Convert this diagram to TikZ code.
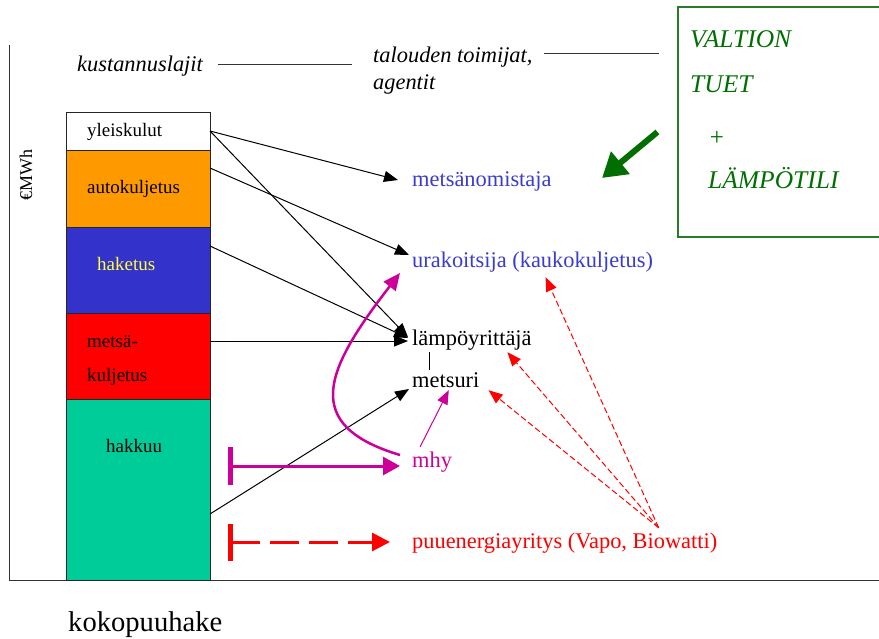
\documentclass[tikz,border=0pt]{standalone}
\usepackage{fontspec}
\setmainfont{Liberation Serif}
\usetikzlibrary{arrows.meta}
\definecolor{barorange}{HTML}{FF9900}
\definecolor{barblue}{HTML}{3333CC}
\definecolor{barred}{HTML}{FF0000}
\definecolor{bargreen}{HTML}{00CC99}
\definecolor{agentblue}{HTML}{3B3BD0}
\definecolor{mhycol}{HTML}{CC0099}
\definecolor{subsidy}{HTML}{006E00}
\definecolor{subsidybox}{HTML}{2A7A2A}
\definecolor{textyellow}{HTML}{FFFF33}
\begin{document}
\begin{tikzpicture}[x=1pt,y=-1pt,
  bar/.style={draw=black!85, line width=1pt, minimum width=144pt, inner sep=0pt, outer sep=0pt},
  barlabel/.style={anchor=base west, inner sep=0pt, font=\fontsize{19}{22}\selectfont},
  agent/.style={anchor=base west, inner sep=2pt, text height=15pt, text depth=5pt, font=\fontsize{22.4}{26}\selectfont},
  head/.style={anchor=base west, inner sep=0pt, font=\fontsize{22.4}{26}\selectfont\itshape},
  rule/.style={line width=1pt, black!80},
  cost/.style={line width=1pt, -{Triangle[length=14pt,width=11pt]}},
  tie/.style={red, line width=1pt, dash pattern=on 6pt off 3pt, -{Triangle[length=14pt,width=11pt]}},
  subsidytext/.style={anchor=base west, inner sep=0pt, text=subsidy, font=\fontsize{25.5}{30}\selectfont\itshape},
]
\useasboundingbox (0,0) rectangle (879,638);

% axes
\draw[rule] (9,45) -- (9,580) -- (879,580);
\node[rotate=90, font=\fontsize{18}{20}\selectfont] (unit) at (26,175) {€MWh};

% stacked cost bar
\node[bar, fill=white,     minimum height=38pt]  (yl) at (138,131)   {};
\node[bar, fill=barorange, minimum height=77pt]  (au) at (138,188.5) {};
\node[bar, fill=barblue,   minimum height=86pt]  (ha) at (138,270)   {};
\node[bar, fill=barred,    minimum height=86pt]  (mk) at (138,356)   {};
\node[bar, fill=bargreen,  minimum height=181pt] (hk) at (138,489.5) {};

\node[barlabel] (tyl) at (87,136) {yleiskulut};
\node[barlabel] (tau) at (87,193) {autokuljetus};
\node[barlabel, text=textyellow] (tha) at (97,270) {haketus};
\node[barlabel] (tmk1) at (87,347) {metsä-};
\node[barlabel] (tmk2) at (87,381) {kuljetus};
\node[barlabel] (thk) at (106,452) {hakkuu};

\node[anchor=base west, inner sep=0pt, font=\fontsize{28.6}{32}\selectfont] (kp) at (68,631) {kokopuuhake};

% headings
\node[head] (kl) at (77,71) {kustannuslajit};
\node[head] (tt1) at (373,62) {talouden toimijat,};
\node[head] (tt2) at (373,89) {agentit};

% subsidy box
\node[draw=subsidybox, line width=1.2pt, minimum width=212pt, minimum height=230pt, inner sep=0pt] (vb) at (784,122) {};
\node[subsidytext] (v1) at (690,47) {VALTION};
\node[subsidytext] (v2) at (690,92) {TUET};
\node[text=subsidy, font=\fontsize{25}{30}\selectfont] (v3) at (717,138) {+};
\node[subsidytext] (v4) at (708,188) {LÄMPÖTILI};

\draw[rule] ([xshift=15pt,yshift=1pt]kl.east) -- ([xshift=-21pt,yshift=-8pt]tt1.west);
\coordinate (l2s) at ([xshift=11pt,yshift=3pt]tt1.east);
\coordinate (l2e) at ([xshift=-18pt]vb.west);
\draw[rule] (l2s) -- (l2s -| l2e);

\coordinate (gend) at (602,178);
\draw[subsidy, line width=6pt, -{Triangle[length=24pt,width=28pt]}] ([xshift=-20pt,yshift=-10pt]vb.west) -- (gend);

% agents
\node[agent, text=agentblue] (mo) at (410,186) {metsänomistaja};
\node[agent, text=agentblue] (ur) at (410,267) {urakoitsija (kaukokuljetus)};
\node[agent] (la) at (410,345) {lämpöyrittäjä};
\node[agent] (me) at (410,387) {metsuri};
\node[agent, text=mhycol] (mh) at (410,467) {mhy};
\node[agent, text=red] (pu) at (410,548) {puuenergiayritys (Vapo, Biowatti)};

\draw[line width=0.8pt] ([xshift=19pt]la.south west) -- ([xshift=19pt]me.north west);

% cost flows
\draw[cost] (yl.east) -- ([xshift=-12pt,yshift=1pt]mo.west);
\draw[cost] (yl.east) -- ([xshift=-2pt,yshift=3pt]la.west);
\draw[cost] ([yshift=20.5pt]au.east) -- ([xshift=-1pt,yshift=7pt]ur.west);
\draw[cost] ([yshift=24pt]ha.east) -- ([xshift=-2pt,yshift=2pt]la.west);
\draw[cost] ([yshift=15pt]mk.east) -- ([xshift=-2pt,yshift=-1pt]la.west);
\draw[cost] ([yshift=-24.5pt]hk.east) -- ([xshift=-1pt,yshift=-7pt]me.west);

% forest owners' association
\draw[mhycol, line width=2.5pt, -{Triangle[length=17pt,width=15pt]}]
  ([xshift=-10pt,yshift=7pt]mh.west) .. controls (300,425) and (325,370) .. ([xshift=-10pt,yshift=-11pt]ur.west);
\draw[mhycol, line width=1pt, -{Triangle[length=14pt,width=11pt]}]
  ([xshift=-12pt,yshift=3pt]mh.north) -- ([xshift=3pt,yshift=4pt]me.south);
\coordinate (mstart) at (228,466);
\draw[mhycol, line width=3pt, {Bar[width=38pt,line width=4.5pt]}-{Triangle[length=17pt,width=18pt]}]
  (mstart) -- ([xshift=-10pt,yshift=-4pt]mh.west);

% wood energy company
\coordinate (rstart) at (228,542);
\draw[red, line width=3pt, dash pattern=on 29pt off 10pt, {Bar[width=37pt,line width=4.5pt]}-{Triangle[length=18pt,width=18pt]}]
  (rstart) -- ([xshift=-20pt,yshift=1pt]pu.west);
\draw[tie] ([xshift=94pt,yshift=3pt]pu.north) -- ([xshift=13pt,yshift=-3pt]ur.south);
\draw[tie] ([xshift=94pt,yshift=3pt]pu.north) -- ([xshift=35.5pt]la.south);
\draw[tie] ([xshift=94pt,yshift=3pt]pu.north) -- ([xshift=7pt,yshift=4pt]me.south east);
\end{tikzpicture}
\end{document}
